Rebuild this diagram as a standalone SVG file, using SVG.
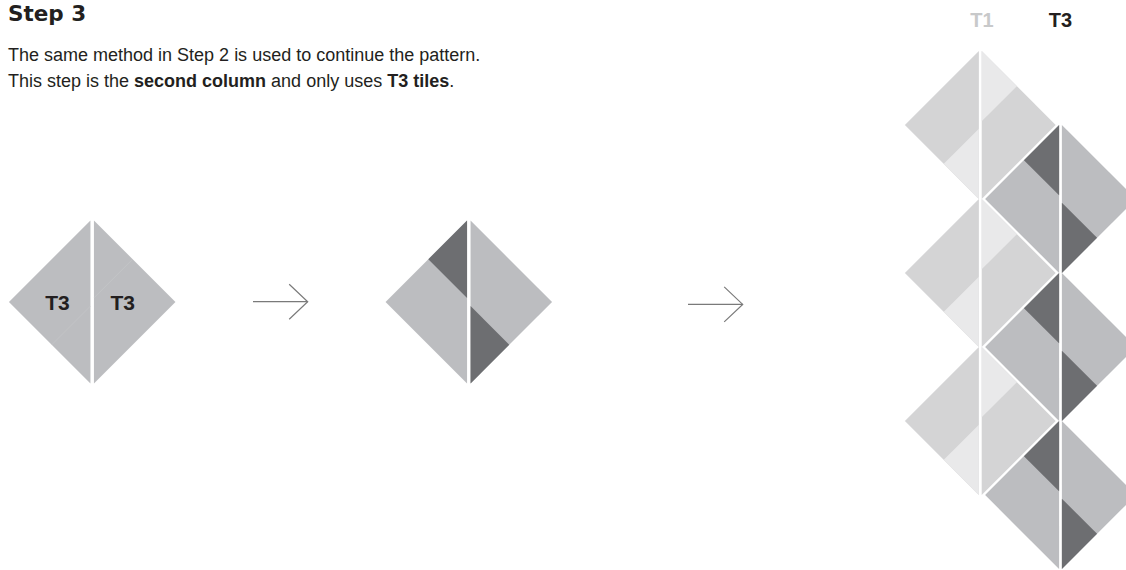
<svg xmlns="http://www.w3.org/2000/svg" xmlns:xlink="http://www.w3.org/1999/xlink" width="1126" height="570" viewBox="0 0 1126 570">
<style>
.m{fill:#bcbdc0}
.d{fill:#6d6e71}
.l{fill:#d4d4d5}
.ll{fill:#e9e9ea}
.seam{stroke:#c6c7c9;stroke-width:0.6;fill:none}
.txt{font-family:"Liberation Sans",Arial,sans-serif;fill:#231f20}
.b{font-weight:bold}
.arrow{stroke:#7a7a7a;stroke-width:1.2;fill:none}
</style>
<defs>
<marker id="chev" viewBox="-24 -24 48 48" refX="0" refY="0" markerWidth="48" markerHeight="48" markerUnits="userSpaceOnUse" orient="auto">
<path d="M-18.5,-17.5 L0,0 L-18.5,17.5" fill="none" stroke="#7a7a7a" stroke-width="1.2"/>
</marker>
<g id="t1d">
<polygon class="l" points="-1.4,-74 -75.4,0 -1.4,74"/>
<polygon class="ll" points="-1.4,3.7 -36.55,38.85 -1.4,74"/>
<polygon class="l" points="1.4,-74 75.4,0 1.4,74"/>
<polygon class="ll" points="1.4,-74 36.55,-38.85 1.4,-3.7"/>
</g>
<g id="t3d">
<polygon class="m" points="-1.4,-74 -75.4,0 -1.4,74"/>
<polygon class="d" points="-1.4,-74 -36.55,-38.85 -1.4,-3.7"/>
<polygon class="m" points="1.4,-74 75.4,0 1.4,74"/>
<polygon class="d" points="1.4,3.7 36.55,38.85 1.4,74"/>
</g>
</defs>

<g id="title">
<text x="8" y="21" font-size="21.5" font-weight="bold" font-family="DejaVu Sans, sans-serif" fill="#231f20">Step 3</text>
<text class="txt" x="8" y="61" font-size="18">The same method in Step 2 is used to continue the pattern.</text>
<text class="txt" x="8" y="87" font-size="18">This step is the <tspan class="b">second column</tspan> and only uses <tspan class="b">T3 tiles</tspan>.</text>
</g>

<g id="diamond-a" transform="translate(92.2,302)">
<polygon class="m" points="-1.75,-81.5 -83.25,0 -1.75,81.5"/>
<polygon class="m" points="1.75,-81.5 83.25,0 1.75,81.5"/>
<line class="seam" x1="-40.46" y1="42.79" x2="-1.75" y2="4.07"/>
<line class="seam" x1="1.75" y1="-4.07" x2="40.46" y2="-42.79"/>
<text class="txt b" x="-34.7" y="8" font-size="21" text-anchor="middle">T3</text>
<text class="txt b" x="30.6" y="8" font-size="21" text-anchor="middle">T3</text>
</g>

<g id="diamond-b" transform="translate(468.8,302)">
<polygon class="m" points="-1.75,-81.5 -83.25,0 -1.75,81.5"/>
<polygon class="d" points="-1.75,-81.5 -40.46,-42.79 -1.75,-4.07"/>
<polygon class="m" points="1.75,-81.5 83.25,0 1.75,81.5"/>
<polygon class="d" points="1.75,4.07 40.46,42.79 1.75,81.5"/>
</g>

<g id="connectors">
<line class="arrow" x1="253" y1="301.7" x2="307.7" y2="301.7" marker-end="url(#chev)"/>
<line class="arrow" x1="688" y1="304.4" x2="742.7" y2="304.4" marker-end="url(#chev)"/>
</g>

<g id="column-labels">
<text class="b" x="982" y="27" font-size="20" text-anchor="middle" font-family="Liberation Sans, Arial, sans-serif" fill="#c8c9ca">T1</text>
<text class="txt b" x="1060.5" y="27" font-size="20" text-anchor="middle">T3</text>
</g>

<g id="t1-col">
<use id="t1-1" xlink:href="#t1d" transform="translate(980.3,125)"/>
<use id="t1-2" xlink:href="#t1d" transform="translate(980.3,273)"/>
<use id="t1-3" xlink:href="#t1d" transform="translate(980.3,421)"/>
</g>
<g id="t3-col">
<use id="t3-1" xlink:href="#t3d" transform="translate(1060.5,199)"/>
<use id="t3-2" xlink:href="#t3d" transform="translate(1060.5,347)"/>
<use id="t3-3" xlink:href="#t3d" transform="translate(1060.5,495)"/>
</g>
</svg>
